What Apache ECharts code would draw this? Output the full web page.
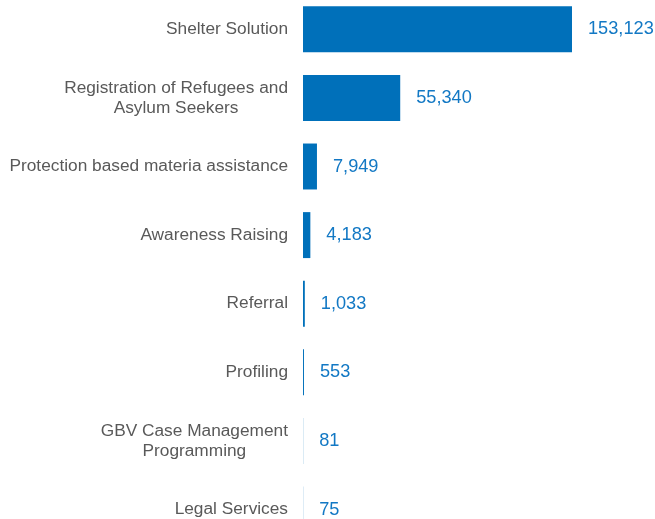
<!DOCTYPE html>
<html>
<head>
<meta charset="utf-8">
<script src="https://cdn.jsdelivr.net/npm/echarts@6/dist/echarts.min.js"></script>
<style>html,body{margin:0;padding:0;background:#fff}#c{width:655px;height:519px}</style>
</head>
<body>
<div id="c"></div>
<script>
var categories = [
  "Shelter Solution",
  "Registration of Refugees and\nAsylum Seekers",
  "Protection based materia assistance",
  "Awareness Raising",
  "Referral",
  "Profiling",
  "GBV Case Management\nProgramming",
  "Legal Services"
];
var values = [153123, 55340, 7949, 4183, 1033, 553, 81, 75];

var chart = echarts.init(document.getElementById('c'), null, {renderer: 'canvas'});
chart.setOption({
  animation: false,
  grid: {left: 303, top: -5, width: 269, height: 548.8, containLabel: false, outerBoundsMode: 'none'},
  xAxis: {
    type: 'value', min: 0, max: 153123,
    show: false
  },
  yAxis: {
    type: 'category',
    inverse: true,
    data: categories,
    axisLine: {show: false},
    axisTick: {show: false},
    splitLine: {show: false},
    axisLabel: {
      margin: 15,
      formatter: function (v) {
        return v.split('\n').map(function (s) { return '{c|' + s + '}'; }).join('\n');
      },
      rich: {
        c: {
          align: 'center',
          fontFamily: 'Liberation Sans, Arial, sans-serif',
          fontSize: 17.3,
          lineHeight: 20,
          color: '#595959'
        }
      }
    }
  },
  series: [{
    type: 'bar',
    data: values,
    barCategoryGap: '33%',
    itemStyle: {color: '#0070BA'},
    label: {
      show: true,
      position: 'right',
      distance: 16,
      fontFamily: 'Liberation Sans, Arial, sans-serif',
      fontSize: 18.2,
      color: '#1278C4',
      formatter: function (p) { return p.value.toLocaleString('en-US'); }
    }
  }]
});
</script>
</body>
</html>
